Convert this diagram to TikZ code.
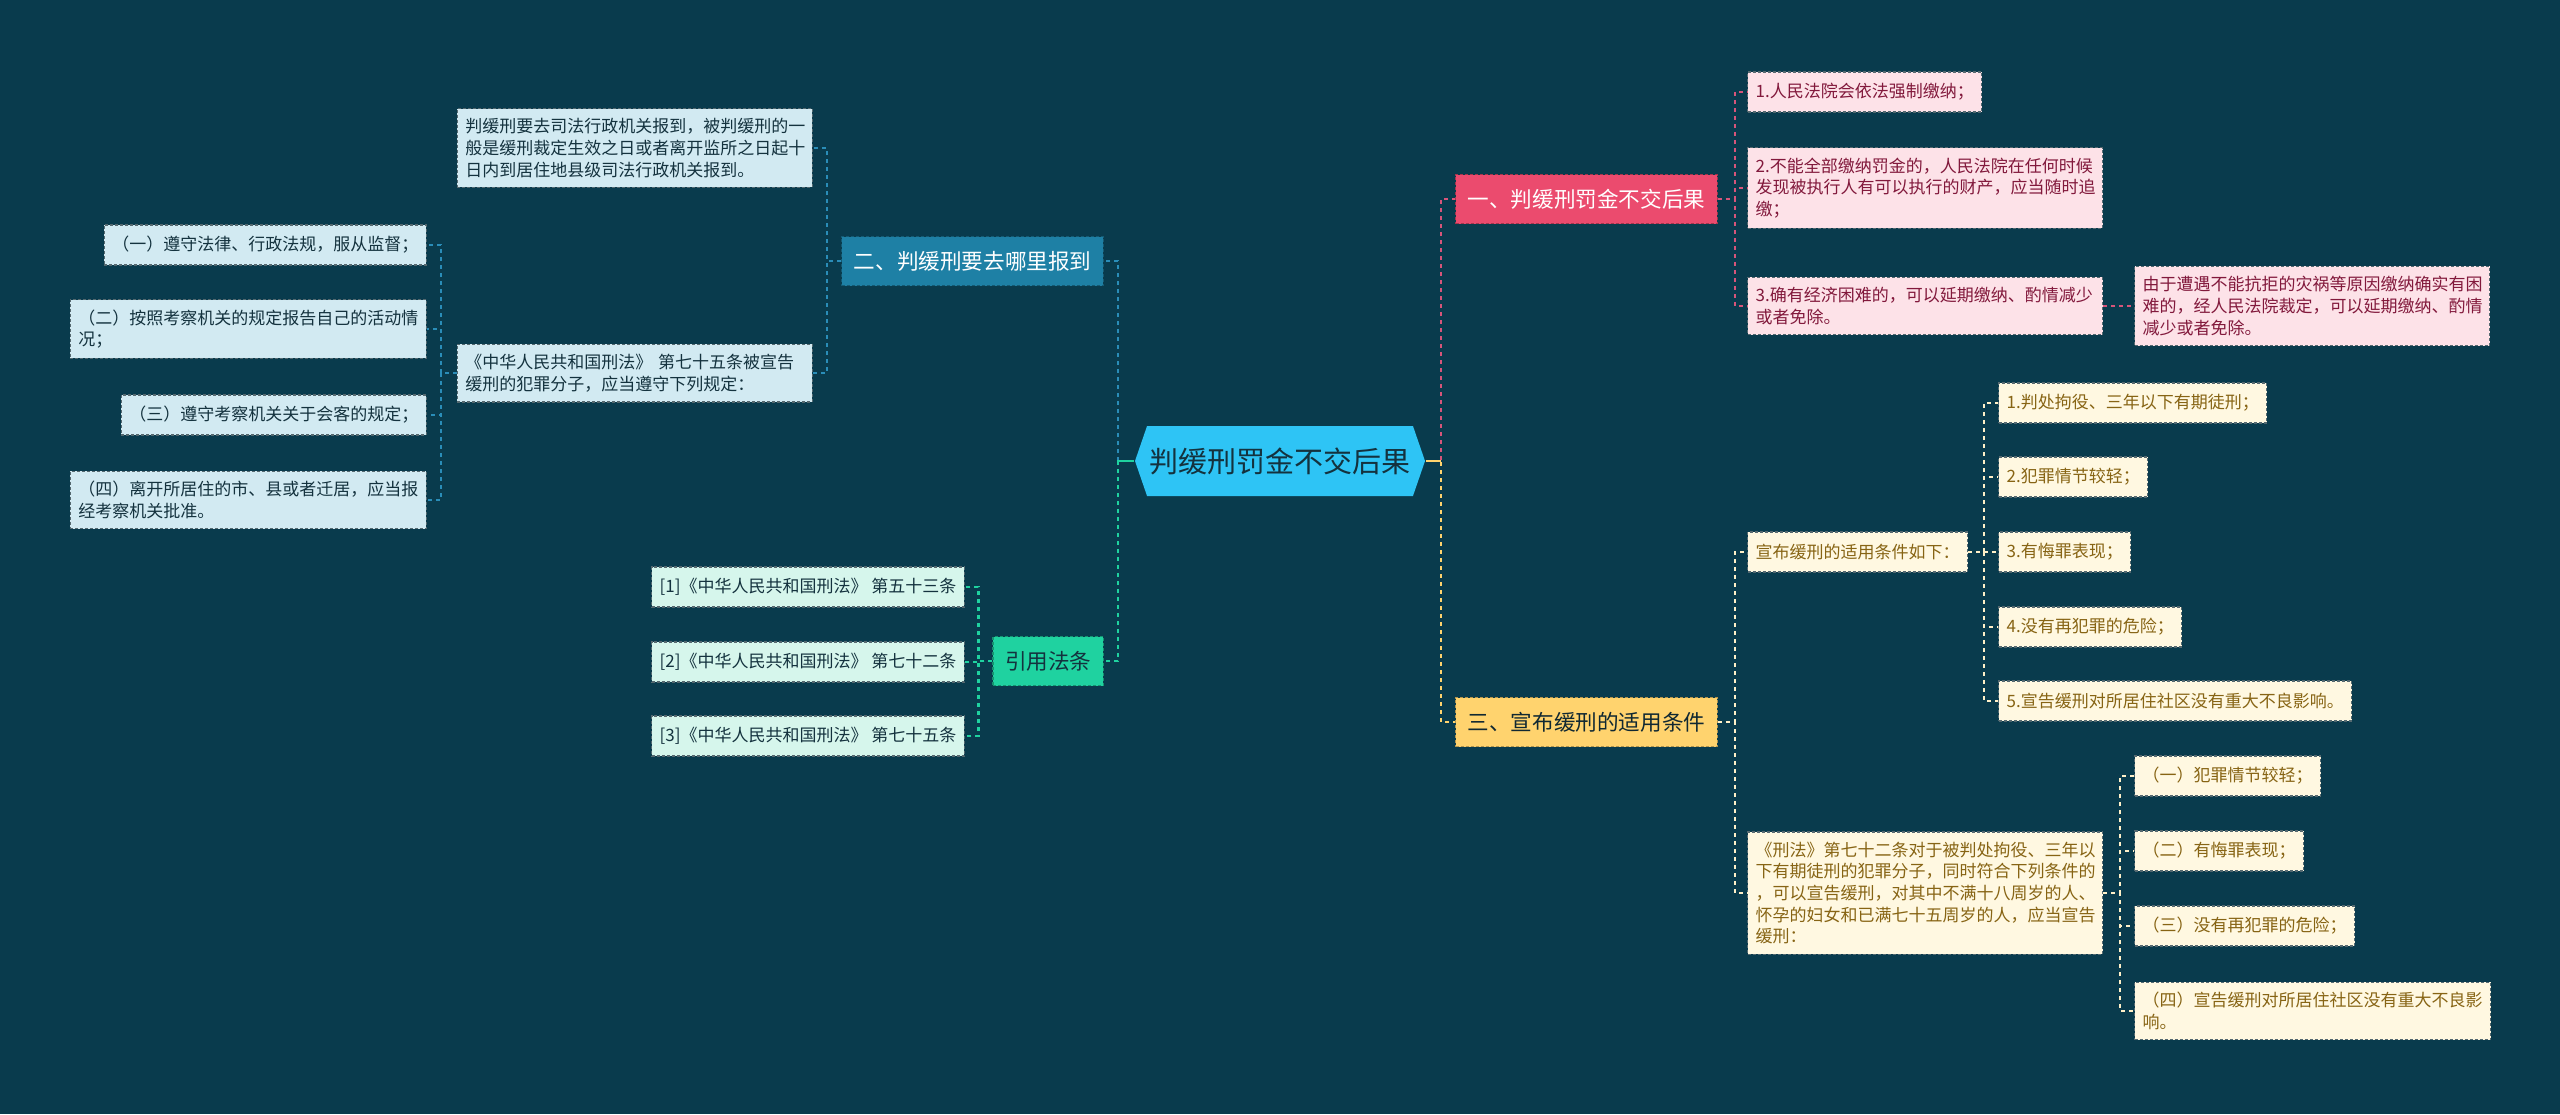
\documentclass[tikz,border=0pt]{standalone}
\usepackage{fontspec}
\setmainfont{Noto Sans CJK SC}
\usetikzlibrary{shapes.symbols}
\definecolor{bgteal}{RGB}{9,59,77}
\definecolor{hubfill}{RGB}{46,196,245}
\definecolor{bluetop}{RGB}{30,128,165}
\definecolor{greentop}{RGB}{31,210,160}
\definecolor{pinktop}{RGB}{235,75,110}
\definecolor{yellowtop}{RGB}{255,211,110}
\definecolor{bluefill}{RGB}{210,234,242}
\definecolor{mintfill}{RGB}{214,246,236}
\definecolor{pinkfill}{RGB}{253,226,232}
\definecolor{creamfill}{RGB}{255,248,225}
\definecolor{leaftext}{RGB}{20,50,62}
\definecolor{pinktext}{RGB}{130,25,60}
\definecolor{creamtext}{RGB}{135,100,20}
\definecolor{leafedge}{RGB}{85,105,112}
\definecolor{blueline}{RGB}{42,141,184}
\definecolor{pinkline}{RGB}{215,85,122}
\definecolor{creamline}{RGB}{255,240,200}
\begin{document}
\begin{tikzpicture}[x=0.5pt,y=-0.5pt,line width=1pt,
  leaf/.style={draw=leafedge,dashed,dash pattern=on 1.5pt off 1pt,line width=0.6pt,
    inner xsep=4pt,inner ysep=5pt,minimum height=20pt,align=left,
    font=\fontsize{8.5}{10.8}\selectfont},
  wide/.style={text width=169.5pt},
  blueleaf/.style={leaf,fill=bluefill,text=leaftext},
  mintleaf/.style={leaf,fill=mintfill,text=leaftext},
  pinkleaf/.style={leaf,fill=pinkfill,text=pinktext},
  creamleaf/.style={leaf,fill=creamfill,text=creamtext},
  topic/.style={dashed,dash pattern=on 1.5pt off 1pt,line width=0.6pt,inner xsep=6pt,
    minimum height=24.5pt,font=\fontsize{10.8}{13}\selectfont},
  conn/.style={dashed,dash pattern=on 2pt off 2pt,line width=1.1pt}]
  \useasboundingbox[fill=bgteal] (0,0) rectangle (2560,1114);

  % centre
  \node[signal,signal to=west and east,signal pointer angle=142,fill=hubfill,text=leaftext,
    minimum width=145pt,minimum height=35pt,inner xsep=0pt,font=\fontsize{14.5}{16}\selectfont]
    (hub) at (1280,461) {判缓刑罚金不交后果};

  % first level
  \node[topic,draw=bluetop!70!black,fill=bluetop,text=white,anchor=east] (report) at (1104,261) {二、判缓刑要去哪里报到};
  \node[topic,draw=greentop!70!black,fill=greentop,text=leaftext,anchor=east] (cite) at (1104,661) {引用法条};
  \node[topic,draw=pinktop!70!black,fill=pinktop,text=white,anchor=west] (unpaid) at (1455,199) {一、判缓刑罚金不交后果};
  \node[topic,draw=yellowtop!70!black,fill=yellowtop,text=leaftext!80!black,anchor=west] (terms) at (1455,722) {三、宣布缓刑的适用条件};

  \draw[conn,blueline] (hub.west) -- ++(-16,0) |- (report.east);
  \draw[conn,greentop] (hub.west) -- ++(-16,0) |- (cite.east);
  \draw[conn,pinkline] (hub.east) -- ++(15,0) |- (unpaid.west);
  \draw[conn,yellowtop] (hub.east) -- ++(15,0) |- (terms.west);
  \draw[greentop,line width=1.1pt] (hub.west) -- ++(-16,0);
  \draw[yellowtop,line width=1.1pt] (hub.east) -- ++(15,0);

  % where to report
  \node[blueleaf,wide,anchor=east] (office) at (813,148) {判缓刑要去司法行政机关报到，被判缓刑的一\\般是缓刑裁定生效之日或者离开监所之日起十\\日内到居住地县级司法行政机关报到。};
  \node[blueleaf,wide,anchor=east] (rules) at (813,373) {《中华人民共和国刑法》 第七十五条被宣告\\缓刑的犯罪分子，应当遵守下列规定：};
  \draw[conn,blueline] (report.west) -- ++(-14,0) |- (office.east);
  \draw[conn,blueline] (report.west) -- ++(-14,0) |- (rules.east);
  \foreach \n/\y/\t in {ruleA/245/{（一）遵守法律、行政法规，服从监督；},
      ruleB/329/{（二）按照考察机关的规定报告自己的活动情\\况；},
      ruleC/415/{（三）遵守考察机关关于会客的规定；},
      ruleD/500/{（四）离开所居住的市、县或者迁居，应当报\\经考察机关批准。}}{
    \node[blueleaf,anchor=east] (\n) at (427,\y) {\t};
    \draw[conn,blueline] (rules.west) -- ++(-16,0) |- (\n.east);
  }

  % cited articles
  \foreach \n/\y/\t in {artA/587/{[1]《中华人民共和国刑法》 第五十三条},
      artB/662/{[2]《中华人民共和国刑法》 第七十二条},
      artC/736/{[3]《中华人民共和国刑法》 第七十五条}}{
    \node[mintleaf,anchor=east] (\n) at (965,\y) {\t};
    \draw[conn,greentop] (cite.west) -- ++(-14,0) |- (\n.east);
  }

  % unpaid fine
  \node[pinkleaf,anchor=west] (force) at (1747,92) {1.人民法院会依法强制缴纳；};
  \node[pinkleaf,wide,anchor=west] (recover) at (1747,188) {2.不能全部缴纳罚金的，人民法院在任何时候\\发现被执行人有可以执行的财产，应当随时追\\缴；};
  \node[pinkleaf,wide,anchor=west] (hardship) at (1747,306) {3.确有经济困难的，可以延期缴纳、酌情减少\\或者免除。};
  \node[pinkleaf,wide,anchor=west] (disaster) at (2134,306) {由于遭遇不能抗拒的灾祸等原因缴纳确实有困\\难的，经人民法院裁定，可以延期缴纳、酌情\\减少或者免除。};
  \foreach \n in {force,recover,hardship}
    \draw[conn,pinkline] (unpaid.east) -- ++(17,0) |- (\n.west);
  \draw[conn,pinkline] (hardship.east) -- (disaster.west);

  % conditions
  \node[creamleaf,anchor=west] (cond) at (1747,552) {宣布缓刑的适用条件如下：};
  \node[creamleaf,wide,anchor=west] (art72) at (1747,893) {《刑法》第七十二条对于被判处拘役、三年以\\下有期徒刑的犯罪分子，同时符合下列条件的\\，可以宣告缓刑，对其中不满十八周岁的人、\\怀孕的妇女和已满七十五周岁的人，应当宣告\\缓刑：};
  \draw[conn,creamline] (terms.east) -- ++(17,0) |- (cond.west);
  \draw[conn,creamline] (terms.east) -- ++(17,0) |- (art72.west);
  \foreach \n/\y/\t in {condA/403/{1.判处拘役、三年以下有期徒刑；},
      condB/477/{2.犯罪情节较轻；},
      condC/552/{3.有悔罪表现；},
      condD/627/{4.没有再犯罪的危险；},
      condE/701/{5.宣告缓刑对所居住社区没有重大不良影响。}}{
    \node[creamleaf,anchor=west] (\n) at (1998,\y) {\t};
    \draw[conn,creamline] (cond.east) -- ++(16,0) |- (\n.west);
  }
  \foreach \n/\y/\t in {itemA/776/{（一）犯罪情节较轻；},
      itemB/851/{（二）有悔罪表现；},
      itemC/926/{（三）没有再犯罪的危险；},
      itemD/1011/{（四）宣告缓刑对所居住社区没有重大不良影\\响。}}{
    \node[creamleaf,anchor=west] (\n) at (2134,\y) {\t};
    \draw[conn,creamline] (art72.east) -- ++(17,0) |- (\n.west);
  }
\end{tikzpicture}
\end{document}
